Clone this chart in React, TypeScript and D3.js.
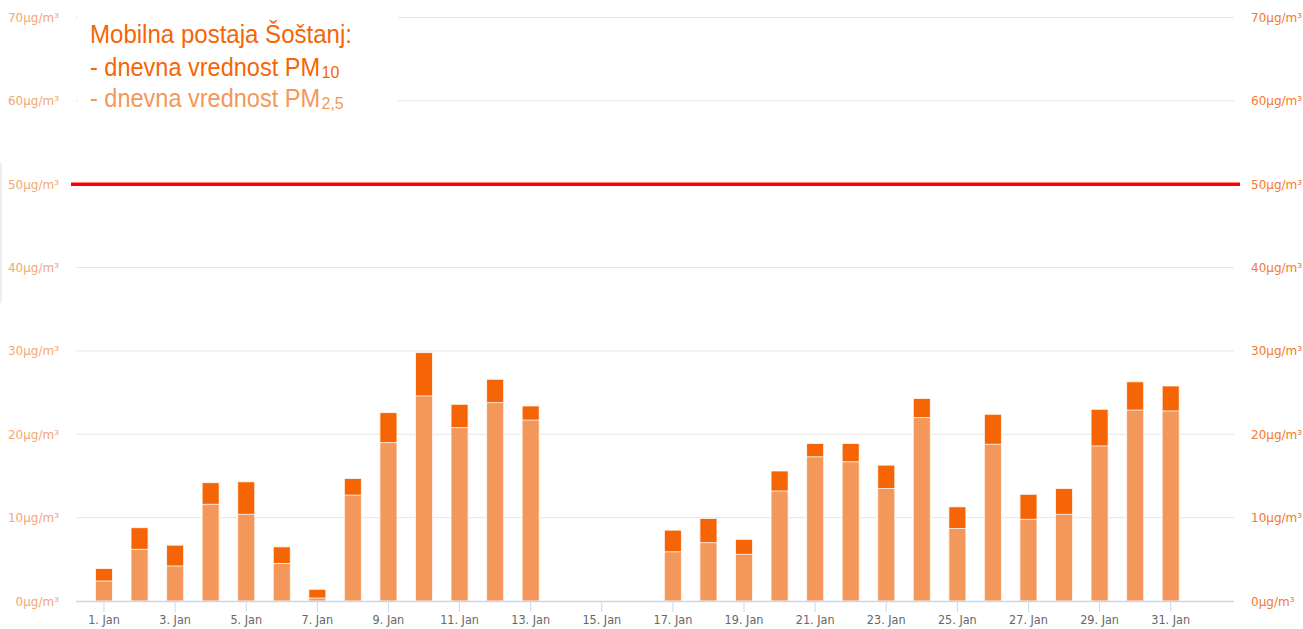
import React from "react";
import * as d3 from "d3";

const days: number[] = Array.from({ length: 31 }, (_, i) => i + 1);
// daily PM10 (total bar height) and PM2.5 (lower part); null = no data
const pm10: (number | null)[] = [
  3.9, 8.8, 6.7, 14.2, 14.3, 6.5, 1.4, 14.7, 22.6, 29.8, 23.6, 26.6, 23.4,
  null, null, null,
  8.5, 9.9, 7.4, 15.6, 18.9, 18.9, 16.3, 24.3, 11.3, 22.4, 12.8, 13.5, 23.0, 26.3, 25.8,
];
const pm25: (number | null)[] = [
  2.4, 6.2, 4.2, 11.6, 10.4, 4.5, 0.35, 12.7, 19.0, 24.6, 20.8, 23.8, 21.7,
  null, null, null,
  5.9, 7.0, 5.6, 13.2, 17.3, 16.7, 13.5, 22.0, 8.7, 18.8, 9.8, 10.4, 18.6, 22.9, 22.8,
];
const yTicks: number[] = [0, 10, 20, 30, 40, 50, 60, 70];
const xTickDays: number[] = [1, 3, 5, 7, 9, 11, 13, 15, 17, 19, 21, 23, 25, 27, 29, 31];
const limitValue = 50;
const xDomain: [number, number] = [0.213, 32.78];
const titleLines: string[] = ["Mobilna postaja Šoštanj:", "- dnevna vrednost PM", "- dnevna vrednost PM"];
const titleSubs: string[] = ["", "10", "2,5"];

const W = 1303;
const H = 629;
const left = 76;
const right = 1234;
const top = 17.5;
const bottom = 601;

const colPM10 = "#f56505";
const colPM25 = "#f4975a";

export default function App() {
  const x = d3.scaleLinear().domain(xDomain).range([left, right]);
  const y = d3.scaleLinear().domain([0, 70]).range([bottom, top]);
  const step = x(2) - x(1);
  const bw = step * 0.48;

  return (
    <svg
      width={W}
      height={H}
      style={{ position: "absolute", left: 0, top: 0, background: "#fff" }}
      xmlns="http://www.w3.org/2000/svg"
    >
      <rect x={0} y={0} width={W} height={H} fill="#fff" />
      {/* faint left border line */}
      <line x1={1} x2={1} y1={163} y2={303} stroke="#e8e8e8" strokeWidth={1.5} />
      {/* grid lines */}
      {yTicks.filter((t) => t > 0).map((t) => (
        <line key={"g" + t} x1={left} x2={right} y1={y(t)} y2={y(t)} stroke="#e6e6e6" strokeWidth={1} />
      ))}
      {/* y labels left */}
      {yTicks.map((t) => (
        <text
          key={"yl" + t}
          x={59}
          y={y(t) + 4.5}
          textAnchor="end"
          fontFamily="DejaVu Sans, sans-serif"
          fontSize={12}
          fill="#f6a677"
        >
          {t}µg/m³
        </text>
      ))}
      {/* y labels right */}
      {yTicks.map((t) => (
        <text
          key={"yr" + t}
          x={1251}
          y={y(t) + 4.5}
          textAnchor="start"
          fontFamily="DejaVu Sans, sans-serif"
          fontSize={12}
          fill="#f37a2e"
        >
          {t}µg/m³
        </text>
      ))}
      {/* bars */}
      {days.map((d, i) => {
        const v10 = pm10[i];
        const v25 = pm25[i];
        if (v10 == null || v25 == null) return null;
        const cx = x(d);
        return (
          <g key={"b" + d}>
            <rect
              x={cx - bw / 2}
              y={y(v10)}
              width={bw}
              height={y(0) - y(v10)}
              fill={colPM10}
              stroke="#fff"
              strokeOpacity={0.8}
              strokeWidth={1}
            />
            <rect
              x={cx - bw / 2}
              y={y(v25)}
              width={bw}
              height={y(0) - y(v25)}
              fill={colPM25}
              stroke="#fff"
              strokeOpacity={0.8}
              strokeWidth={1}
            />
          </g>
        );
      })}
      {/* x axis */}
      <line x1={left} x2={right} y1={bottom + 0.5} y2={bottom + 0.5} stroke="#ccd6eb" strokeWidth={1.5} />
      {xTickDays.map((d) => (
        <g key={"xt" + d}>
          <line x1={x(d)} x2={x(d)} y1={bottom} y2={bottom + 11} stroke="#ccd6eb" strokeWidth={1} />
          <text
            x={x(d)}
            y={bottom + 23}
            textAnchor="middle"
            fontFamily="DejaVu Sans Condensed, DejaVu Sans, sans-serif"
            fontSize={12.5}
            fill="#666"
          >
            {d}. Jan
          </text>
        </g>
      ))}
      {/* limit line */}
      <line x1={71} x2={1240} y1={y(limitValue)} y2={y(limitValue)} stroke="#ff0000" strokeWidth={3.5} />
      {/* title box */}
      <rect x={78} y={6} width={320} height={112} fill="#fff" />
      {titleLines.map((t, i) => {
        const baselines = [42.7, 75.5, 106.5];
        const widths = [262, 230, 230];
        const fills = [colPM10, colPM10, colPM25];
        return (
          <text
            key={"tl" + i}
            x={90}
            y={baselines[i]}
            fontFamily="Liberation Sans Narrow, Arial Narrow, Liberation Sans, sans-serif"
            fontSize={26}
            fill={fills[i]}
          >
            <tspan textLength={widths[i]} lengthAdjust="spacingAndGlyphs">
              {t}
            </tspan>
            {titleSubs[i] && (
              <tspan dx={1.5} dy={2.5} fontSize={16}>
                {titleSubs[i]}
              </tspan>
            )}
          </text>
        );
      })}
    </svg>
  );
}
